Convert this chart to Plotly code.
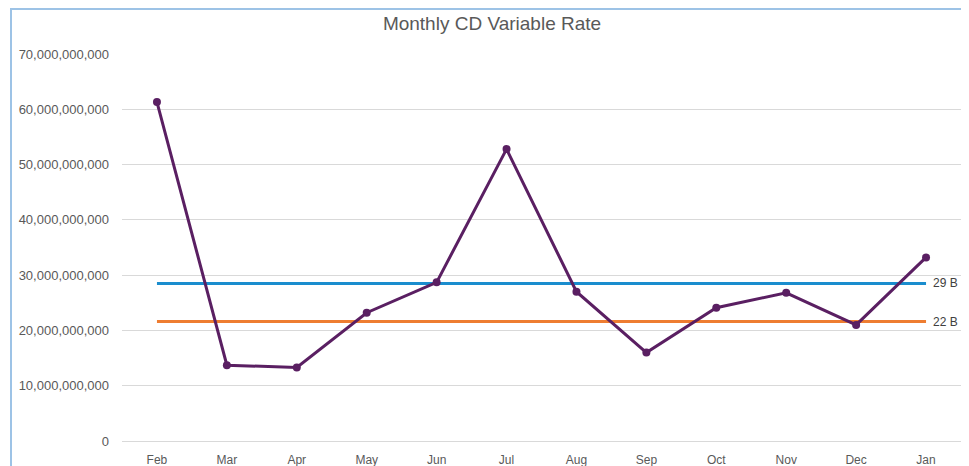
import plotly.graph_objects as go

months = ["Feb", "Mar", "Apr", "May", "Jun", "Jul", "Aug", "Sep", "Oct", "Nov", "Dec", "Jan"]
variable_rate = [61.3e9, 13.7e9, 13.3e9, 23.2e9, 28.7e9, 52.8e9, 27.0e9, 16.0e9, 24.1e9, 26.8e9, 21.0e9, 33.2e9]
upper_level = 28.5e9
lower_level = 21.6e9
upper_label = "29 B"
lower_label = "22 B"
y_ticks = [0, 10e9, 20e9, 30e9, 40e9, 50e9, 60e9, 70e9]

font_family = "Liberation Sans, Arial, sans-serif"
text_color = "#595959"

fig = go.Figure()
fig.add_trace(go.Scatter(x=months, y=[upper_level] * len(months), mode="lines",
                         line=dict(color="#1A8DCE", width=3), hoverinfo="skip", showlegend=False))
fig.add_trace(go.Scatter(x=months, y=[lower_level] * len(months), mode="lines",
                         line=dict(color="#EE7D31", width=3), hoverinfo="skip", showlegend=False))
fig.add_trace(go.Scatter(x=months, y=variable_rate, mode="lines+markers",
                         line=dict(color="#5A1F62", width=3),
                         marker=dict(color="#5A1F62", size=8), showlegend=False))

fig.add_annotation(x=months[-1], y=upper_level, text=upper_label, showarrow=False,
                   xanchor="left", xshift=5, font=dict(family=font_family, size=12, color="#404040"))
fig.add_annotation(x=months[-1], y=lower_level, text=lower_label, showarrow=False,
                   xanchor="left", xshift=5, font=dict(family=font_family, size=12, color="#404040"))

# chart border
fig.add_shape(type="rect", xref="paper", yref="paper",
              x0=-0.1323, x1=1.0083, y0=-0.2, y1=1.1163,
              line=dict(color="#9DC3E6", width=2), layer="below")

fig.update_layout(
    width=969, height=466,
    margin=dict(l=114, r=16, t=46, b=33),
    paper_bgcolor="white", plot_bgcolor="white",
    title=dict(text="Monthly CD Variable Rate", x=(492 - 8) / 969, xref="container", xanchor="center",
               y=1 - (23 - 8) / 466, yanchor="middle",
               font=dict(family="Liberation Sans Narrow, Arial Narrow, sans-serif", size=19, color=text_color)),
    xaxis=dict(type="category", showgrid=False, showline=False, zeroline=False, automargin=False,
               tickfont=dict(family=font_family, size=12, color=text_color),
               ticks="", ticklabelstandoff=10, range=[-0.5, 11.5]),
    yaxis=dict(range=[0, 70e9], tickvals=y_ticks, tickformat=",d", automargin=False,
               showgrid=True, gridcolor="#D9D9D9", gridwidth=1,
               zeroline=True, zerolinecolor="#D9D9D9", zerolinewidth=1,
               showline=False, ticks="", ticklabelstandoff=12,
               tickfont=dict(family=font_family, size=13, color=text_color)),
)

fig.write_html("out.html")
